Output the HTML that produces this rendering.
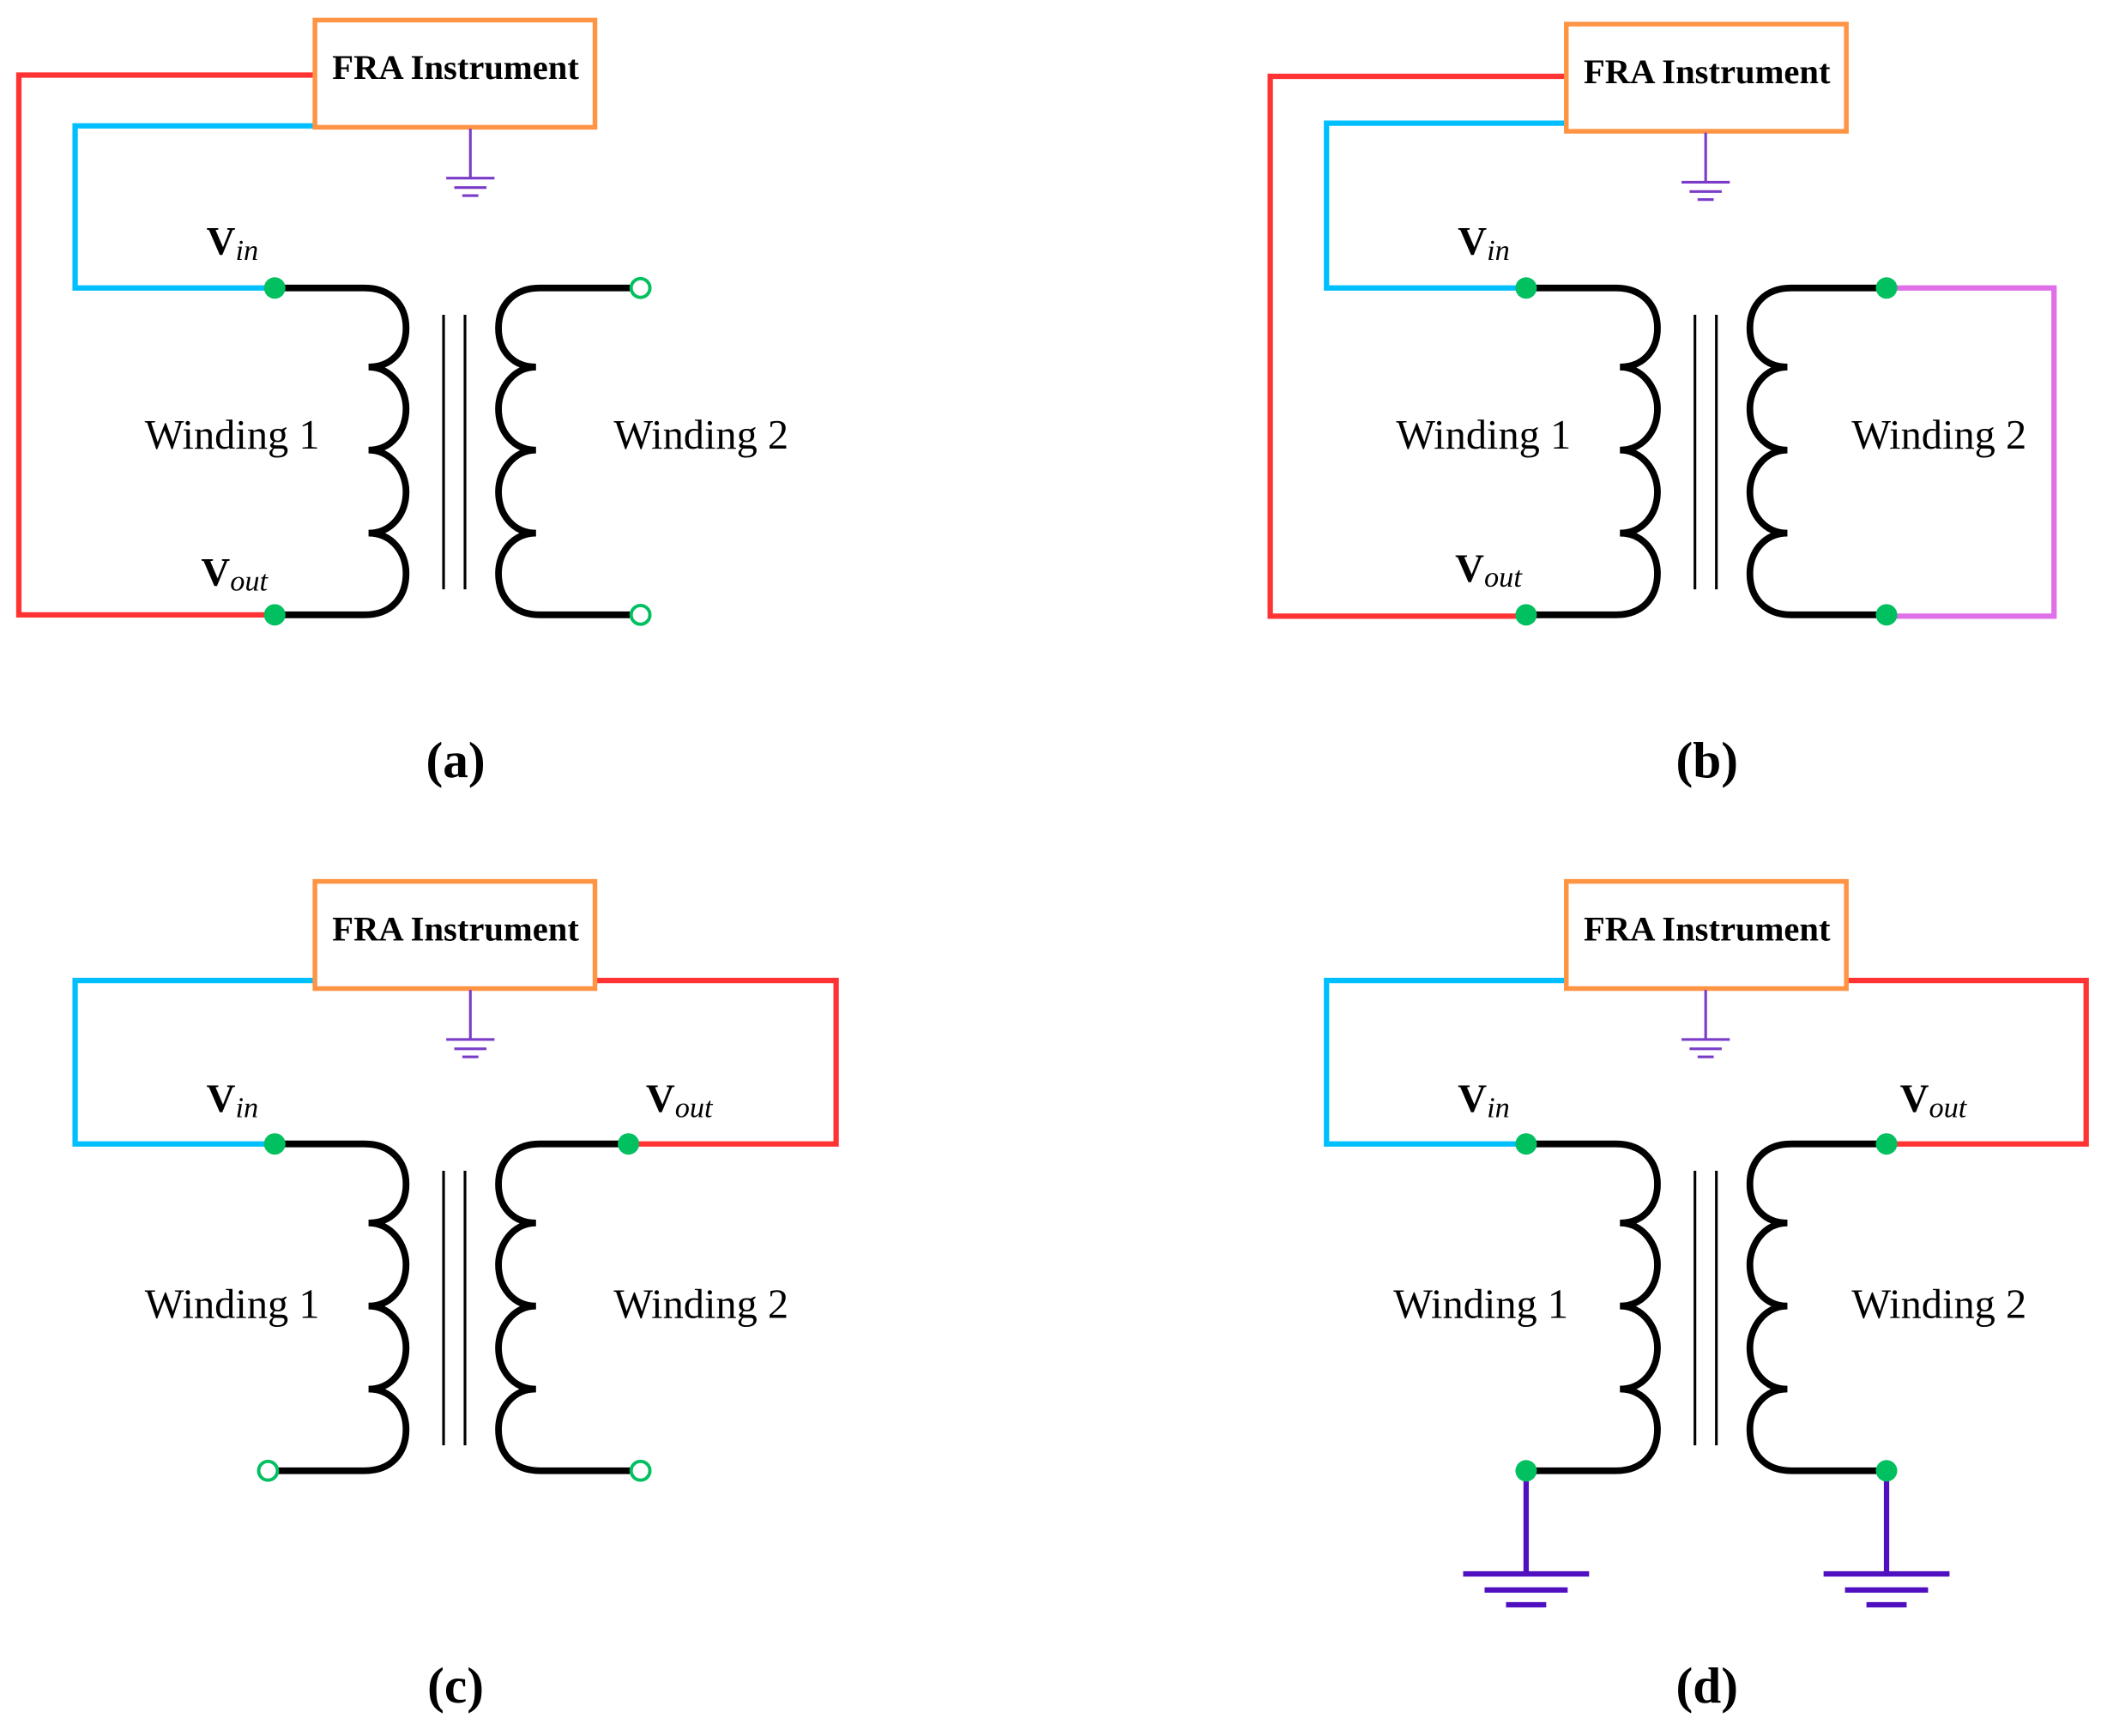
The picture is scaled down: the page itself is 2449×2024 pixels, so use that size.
<!DOCTYPE html>
<html><head><meta charset="utf-8"><style>html,body{margin:0;padding:0;background:#fff}svg{display:block}</style></head>
<body>
<svg xmlns="http://www.w3.org/2000/svg" xmlns:xlink="http://www.w3.org/1999/xlink" width="2449" height="2024" viewBox="0 0 1568 1296">
<defs>
<path id="coil" d="M205,215 H272 C292,215 303,228 303,245 C303,262 292,274 275,274 C292,274 303,290 303,305 C303,322 292,336 275,336 C292,336 303,352 303,367 C303,384 292,398 275,398 C292,398 303,412 303,428 C303,446 292,459 272,459 H205" fill="none" stroke="#000" stroke-width="5"/>
<g id="xf">
<use xlink:href="#coil"/>
<use xlink:href="#coil" transform="translate(675,0) scale(-1,1)"/>
<line x1="331" y1="235" x2="331" y2="440" stroke="#000" stroke-width="2"/>
<line x1="347" y1="235" x2="347" y2="440" stroke="#000" stroke-width="2"/>
</g>
<g id="gnd" stroke="#7a3cc8" stroke-width="2">
<line x1="351" y1="0" x2="351" y2="37"/>
<line x1="333" y1="37" x2="369" y2="37"/>
<line x1="339" y1="44" x2="363" y2="44"/>
<line x1="345" y1="50" x2="357" y2="50"/>
</g>
</defs>
<g font-family="Liberation Serif, serif">
<!-- (a) -->
<polyline points="234,56 14,56 14,459 205,459" fill="none" stroke="#ff3333" stroke-width="4"/>
<polyline points="234,94 56,94 56,215 205,215" fill="none" stroke="#00bfff" stroke-width="4"/>
<use xlink:href="#xf"/>
<rect x="235" y="15" width="209" height="80" fill="#fff" stroke="#ff9444" stroke-width="3.5"/>
<text x="340" y="59" font-size="26" font-weight="bold" text-anchor="middle">FRA Instrument</text>
<use xlink:href="#gnd" transform="translate(0,96)"/>
<circle cx="205" cy="215" r="8" fill="#00c060"/>
<circle cx="205" cy="459" r="8" fill="#00c060"/>
<circle cx="478" cy="215" r="7" fill="#fff" stroke="#00c060" stroke-width="2.5"/>
<circle cx="478" cy="459" r="7" fill="#fff" stroke="#00c060" stroke-width="2.5"/>
<text x="154" y="190" font-size="30" font-weight="bold">V<tspan font-size="22" font-weight="normal" font-style="italic" dy="4">in</tspan></text>
<text x="150" y="437" font-size="30" font-weight="bold">V<tspan font-size="22" font-weight="normal" font-style="italic" dy="4">out</tspan></text>
<text x="108" y="335" font-size="31">Winding 1</text>
<text x="458" y="335" font-size="31">Winding 2</text>
<text x="340" y="580" font-size="38" font-weight="bold" text-anchor="middle">(a)</text>

<!-- (b) -->
<polyline points="1168,57 948,57 948,460 1139,460" fill="none" stroke="#ff3333" stroke-width="4"/>
<polyline points="1168,92 990,92 990,215 1139,215" fill="none" stroke="#00bfff" stroke-width="4"/>
<polyline points="1408,215 1533,215 1533,460 1408,460" fill="none" stroke="#e070e8" stroke-width="4"/>
<use xlink:href="#xf" transform="translate(934,0)"/>
<rect x="1169" y="18" width="209" height="80" fill="#fff" stroke="#ff9444" stroke-width="3.5"/>
<text x="1274" y="62" font-size="26" font-weight="bold" text-anchor="middle">FRA Instrument</text>
<use xlink:href="#gnd" transform="translate(922,99)"/>
<circle cx="1139" cy="215" r="8" fill="#00c060"/>
<circle cx="1139" cy="459" r="8" fill="#00c060"/>
<circle cx="1408" cy="215" r="8" fill="#00c060"/>
<circle cx="1408" cy="459" r="8" fill="#00c060"/>
<text x="1088" y="190" font-size="30" font-weight="bold">V<tspan font-size="22" font-weight="normal" font-style="italic" dy="4">in</tspan></text>
<text x="1086" y="434" font-size="30" font-weight="bold">V<tspan font-size="22" font-weight="normal" font-style="italic" dy="4">out</tspan></text>
<text x="1042" y="335" font-size="31">Winding 1</text>
<text x="1382" y="335" font-size="31">Winding 2</text>
<text x="1274" y="580" font-size="38" font-weight="bold" text-anchor="middle">(b)</text>

<!-- (c) -->
<polyline points="234,732 56,732 56,854 205,854" fill="none" stroke="#00bfff" stroke-width="4"/>
<polyline points="444,732 624,732 624,854 469,854" fill="none" stroke="#ff3333" stroke-width="4"/>
<use xlink:href="#xf" transform="translate(0,639)"/>
<rect x="235" y="658" width="209" height="80" fill="#fff" stroke="#ff9444" stroke-width="3.5"/>
<text x="340" y="702" font-size="26" font-weight="bold" text-anchor="middle">FRA Instrument</text>
<use xlink:href="#gnd" transform="translate(0,739)"/>
<circle cx="205" cy="854" r="8" fill="#00c060"/>
<circle cx="469" cy="854" r="8" fill="#00c060"/>
<circle cx="200" cy="1098" r="7" fill="#fff" stroke="#00c060" stroke-width="2.5"/>
<circle cx="478" cy="1098" r="7" fill="#fff" stroke="#00c060" stroke-width="2.5"/>
<text x="154" y="830" font-size="30" font-weight="bold">V<tspan font-size="22" font-weight="normal" font-style="italic" dy="4">in</tspan></text>
<text x="482" y="830" font-size="30" font-weight="bold">V<tspan font-size="22" font-weight="normal" font-style="italic" dy="4">out</tspan></text>
<text x="108" y="984" font-size="31">Winding 1</text>
<text x="458" y="984" font-size="31">Winding 2</text>
<text x="340" y="1271" font-size="38" font-weight="bold" text-anchor="middle">(c)</text>

<!-- (d) -->
<polyline points="1168,732 990,732 990,854 1139,854" fill="none" stroke="#00bfff" stroke-width="4"/>
<polyline points="1378,732 1557,732 1557,854 1408,854" fill="none" stroke="#ff3333" stroke-width="4"/>
<use xlink:href="#xf" transform="translate(934,639)"/>
<rect x="1169" y="658" width="209" height="80" fill="#fff" stroke="#ff9444" stroke-width="3.5"/>
<text x="1274" y="702" font-size="26" font-weight="bold" text-anchor="middle">FRA Instrument</text>
<use xlink:href="#gnd" transform="translate(922,739)"/>
<g stroke="#5010c0" stroke-width="4">
<line x1="1139" y1="1098" x2="1139" y2="1175"/>
<line x1="1092" y1="1175" x2="1186" y2="1175"/>
<line x1="1108" y1="1187" x2="1170" y2="1187"/>
<line x1="1124" y1="1198" x2="1154" y2="1198"/>
<line x1="1408" y1="1098" x2="1408" y2="1175"/>
<line x1="1361" y1="1175" x2="1455" y2="1175"/>
<line x1="1377" y1="1187" x2="1439" y2="1187"/>
<line x1="1393" y1="1198" x2="1423" y2="1198"/>
</g>
<circle cx="1139" cy="854" r="8" fill="#00c060"/>
<circle cx="1408" cy="854" r="8" fill="#00c060"/>
<circle cx="1139" cy="1098" r="8" fill="#00c060"/>
<circle cx="1408" cy="1098" r="8" fill="#00c060"/>
<text x="1088" y="830" font-size="30" font-weight="bold">V<tspan font-size="22" font-weight="normal" font-style="italic" dy="4">in</tspan></text>
<text x="1418" y="830" font-size="30" font-weight="bold">V<tspan font-size="22" font-weight="normal" font-style="italic" dy="4">out</tspan></text>
<text x="1040" y="984" font-size="31">Winding 1</text>
<text x="1382" y="984" font-size="31">Winding 2</text>
<text x="1274" y="1271" font-size="38" font-weight="bold" text-anchor="middle">(d)</text>
</g>
</svg>
</body></html>
